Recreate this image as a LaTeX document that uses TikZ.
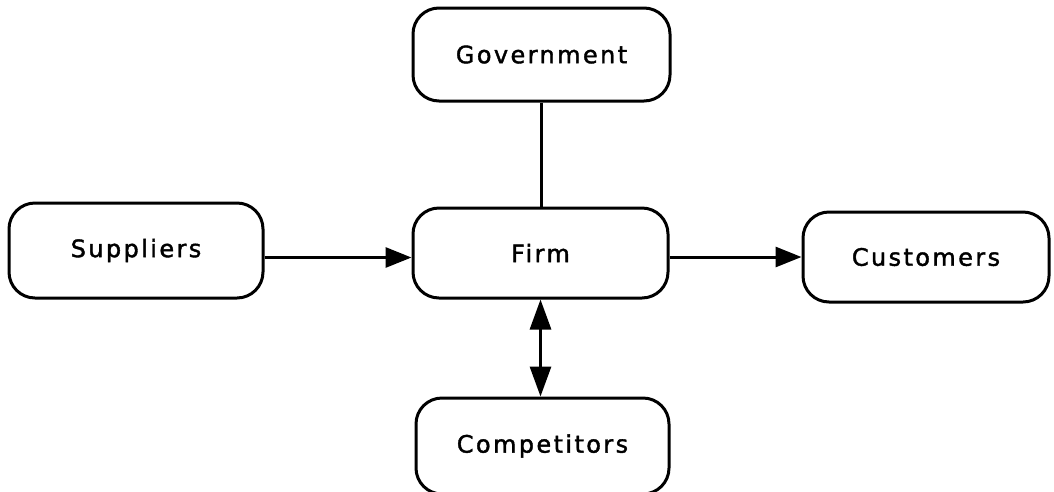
\documentclass[tikz,border=0pt]{standalone}
\usepackage{fontspec}
\setmainfont{DejaVu Sans}[LetterSpace=10,FakeBold=1.6]
\usetikzlibrary{arrows.meta}
\begin{document}
\begin{tikzpicture}[x=1pt,y=-1pt,
  box/.style={draw,line width=3pt,rounded corners=26pt,inner sep=0pt,
    font=\fontsize{24}{27}\selectfont},
  arr/.style={line width=3pt,-{Triangle[length=26pt,width=20pt]}},
  darr/.style={line width=3pt,{Triangle[length=30pt,width=21pt]}-{Triangle[length=30pt,width=21pt]}},
  ln/.style={line width=3pt}]
\useasboundingbox (0,0) rectangle (1054,491);
\clip (0,0) rectangle (1054,491);
\node[box,minimum width=257pt,minimum height=93pt] (gov) at (541.5,54.5) {Government};
\node[box,minimum width=255pt,minimum height=90pt] (firm) at (540.5,253) {Firm};
\node[box,minimum width=254pt,minimum height=95pt] (sup) at (136,250.5) {Suppliers};
\node[box,minimum width=246pt,minimum height=90pt] (cus) at (926,257) {Customers};
\node[box,minimum width=253pt,minimum height=96pt] (comp) at (542.5,446) {Competitors};
\draw[ln] (gov.south) -- (gov.south |- firm.north);
\draw[arr] ([yshift=-7pt]sup.east) -- ([yshift=-7pt]sup.east -| firm.west);
\draw[arr] ([yshift=-4pt]firm.east) -- ([yshift=-4pt]firm.east -| cus.west);
\draw[darr] (firm.south) -- (firm.south |- comp.north);
\end{tikzpicture}
\end{document}
